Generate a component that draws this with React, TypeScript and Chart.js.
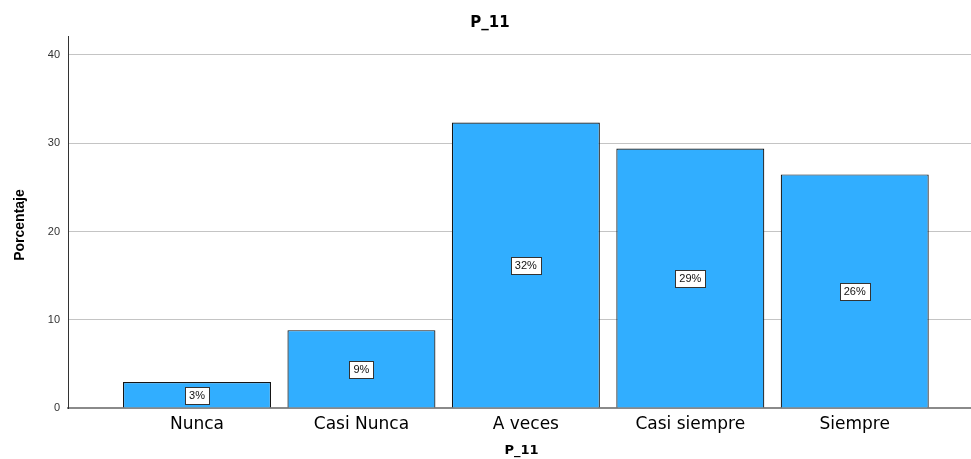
import { useEffect, useRef } from "react";
import { Chart, registerables } from "chart.js";

Chart.register(...registerables);

// Response categories and their share of answers (%)
const categories = ["Nunca", "Casi Nunca", "A veces", "Casi siempre", "Siempre"];
const percentages = [2.94, 8.82, 32.35, 29.41, 26.47];
const yTickValues = [0, 10, 20, 30, 40];

const chartTitle = "P_11";
const xAxisTitle = "P_11";
const yAxisTitle = "Porcentaje";

const BAR_FILL = "#31aeff";
const BAR_EDGE = "#151515";

const textPlugin = {
  id: "p11Text",
  afterDatasetsDraw(chart: any) {
    const { ctx, chartArea } = chart;
    const yScale = chart.scales.y;
    const meta = chart.getDatasetMeta(0);

    ctx.save();
    // value boxes centred half-way up each bar
    ctx.font = '11px "Liberation Sans", Arial, sans-serif';
    ctx.textAlign = "center";
    ctx.textBaseline = "middle";
    meta.data.forEach((bar: any, i: number) => {
      const v = percentages[i];
      const label = `${Math.round(v)}%`;
      const cx = bar.x;
      const cy = yScale.getPixelForValue(v / 2);
      const w = Math.round(ctx.measureText(label).width + 8);
      const h = 17;
      const left = Math.round(cx - w / 2) + 0.5;
      const top = Math.round(cy - h / 2) + 0.5;
      ctx.fillStyle = "#ffffff";
      ctx.fillRect(left, top, w, h);
      ctx.strokeStyle = "#333333";
      ctx.lineWidth = 1;
      ctx.strokeRect(left, top, w, h);
      ctx.fillStyle = "#111111";
      ctx.fillText(label, cx, cy + 1);
    });

    // chart title
    ctx.fillStyle = "#000000";
    ctx.font = 'bold 15px "DejaVu Sans", sans-serif';
    ctx.fillText(chartTitle, 490, 23);

    // x axis title
    ctx.font = 'bold 13px "DejaVu Sans", sans-serif';
    ctx.fillText(xAxisTitle, (chartArea.left + chartArea.right) / 2 + 2, 451);

    // y axis title
    ctx.translate(20, (chartArea.top + chartArea.bottom) / 2 + 3);
    ctx.rotate(-Math.PI / 2);
    ctx.font = 'bold 14px "Liberation Sans", Arial, sans-serif';
    ctx.fillText(yAxisTitle, 0, 0);
    ctx.restore();
  },
};

export default function App() {
  const canvasRef = useRef<HTMLCanvasElement | null>(null);

  useEffect(() => {
    document.body.style.margin = "0";
    const canvas = canvasRef.current;
    if (!canvas) return;

    const chart = new Chart(canvas, {
      type: "bar",
      data: {
        datasets: [
          {
            data: percentages.map((v, i) => ({ x: i, y: v })),
            backgroundColor: BAR_FILL,
            borderColor: BAR_EDGE,
            borderWidth: 1.2,
            barPercentage: 0.9,
            categoryPercentage: 1,
          },
        ],
      },
      options: {
        responsive: false,
        animation: false,
        layout: { padding: { top: 36, left: 0, right: 0, bottom: 0 } },
        plugins: {
          legend: { display: false },
          tooltip: { enabled: false },
          title: { display: false },
        },
        scales: {
          x: {
            type: "linear",
            offset: false,
            min: -0.7845,
            max: 4.707,
            afterFit: (scale: any) => {
              scale.height = 51;
            },
            grid: { drawOnChartArea: false, drawTicks: false, offset: false },
            border: { display: true, color: "#8a8a8a", width: 2 },
            ticks: {
              stepSize: 1,
              includeBounds: false,
              autoSkip: false,
              maxRotation: 0,
              padding: 6,
              color: "#000000",
              font: { family: '"DejaVu Sans", sans-serif', size: 17 },
              callback: (value: any) =>
                Number.isInteger(value) && categories[value] !== undefined ? categories[value] : "",
            },
          },
          y: {
            type: "linear",
            min: 0,
            max: 42.15,
            afterFit: (scale: any) => {
              scale.width = 68;
            },
            afterBuildTicks: (scale: any) => {
              scale.ticks = yTickValues.map((value) => ({ value }));
            },
            grid: { color: "#c4c4c4", lineWidth: 1, drawTicks: false },
            border: { display: true, color: "#333333", width: 1 },
            ticks: {
              padding: 8,
              color: "#333333",
              font: { family: '"Liberation Sans", Arial, sans-serif', size: 11 },
            },
          },
        },
      },
      plugins: [textPlugin],
    });

    return () => chart.destroy();
  }, []);

  return (
    <div style={{ width: 971, height: 459, background: "#ffffff" }}>
      <canvas ref={canvasRef} width={971} height={459} />
    </div>
  );
}
